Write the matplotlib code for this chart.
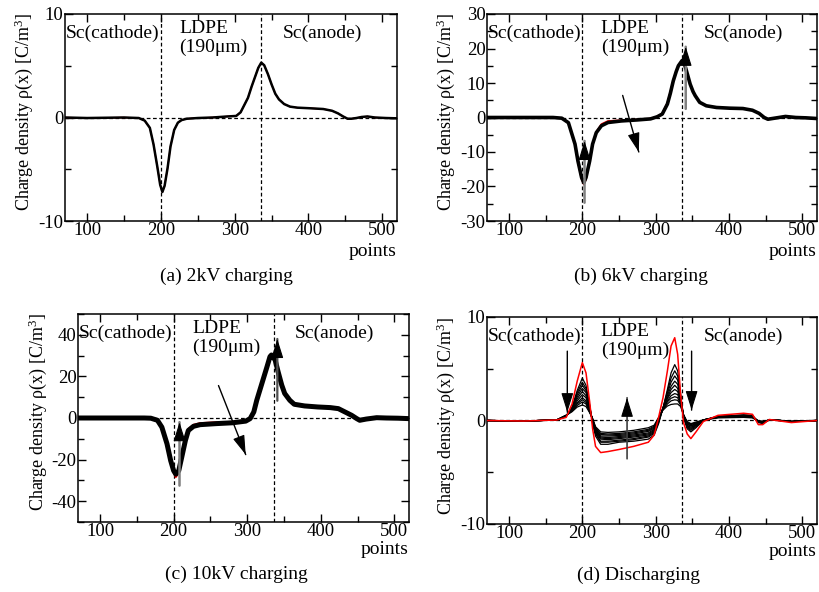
import numpy as np
import matplotlib
matplotlib.use('Agg')
import matplotlib.pyplot as plt
from matplotlib.ticker import MultipleLocator

plt.rcParams['font.family'] = ['Liberation Serif', 'DejaVu Serif']
plt.rcParams['mathtext.fontset'] = 'custom'
plt.rcParams['mathtext.rm'] = 'Liberation Serif'
plt.rcParams['mathtext.it'] = 'Liberation Serif:italic'
plt.rcParams['axes.unicode_minus'] = False

# ---- data ----
# (a) 2kV charging
xa = [70, 100, 150, 170, 178, 185, 190, 195, 199, 202, 205, 209, 213, 218, 223, 228, 235, 250, 270, 290,
      302, 308, 313, 318, 323, 328, 332, 336, 340, 345, 350, 355, 360, 367, 375, 385, 400, 420, 432, 440,
      447, 453, 458, 465, 472, 480, 490, 505, 520]
ya = [0, -0.05, 0, -0.05, -0.3, -1.0, -2.6, -4.7, -6.5, -7.2, -6.6, -4.9, -2.8, -1.2, -0.5, -0.25, -0.12, -0.05, 0.0, 0.1,
      0.15, 0.5, 1.2, 1.9, 3.0, 4.0, 4.8, 5.3, 5.05, 4.2, 3.2, 2.3, 1.75, 1.3, 1.05, 0.95, 0.9, 0.82, 0.65, 0.4,
      0.1, -0.12, -0.12, -0.05, 0.05, 0.1, 0.0, -0.05, -0.08]

# (b) 6kV charging
xb = [70, 120, 160, 172, 181, 190, 194, 199, 202, 205, 210, 214, 219, 226, 235, 253, 275, 293, 302, 309,
      316, 320, 324, 328, 331, 336, 340, 344, 347, 351, 354, 360, 369, 383, 401, 419, 432, 441, 448, 453,
      462, 477, 491, 505, 520]
yb_last = [0, 0, 0, -0.2, -1.5, -7.7, -12.6, -17.4, -18.9, -17.4, -12.6, -7.7, -4.4, -2.4, -1.45, -1.0, -0.7, -0.4, 0.2, 1.0,
           3.9, 7.0, 10.6, 13.3, 15.0, 16.5, 15.0, 12.0, 9.7, 7.5, 6.3, 4.4, 3.4, 2.9, 2.7, 2.6, 2.1, 1.2, 0.0, -0.5,
           -0.2, 0.3, 0.0, -0.1, -0.3]
yb_first = [0, 0, 0, -0.2, -1.6, -8.0, -13.0, -17.9, -19.4, -17.9, -12.9, -7.8, -4.2, -1.9, -1.0, -0.8, -0.6, -0.3, 0.3, 1.2,
            4.3, 7.5, 10.9, 13.4, 15.0, 16.3, 14.8, 11.9, 9.6, 7.5, 6.3, 4.4, 3.4, 2.9, 2.7, 2.6, 2.1, 1.2, 0.0, -0.5,
            -0.2, 0.3, 0.0, -0.1, -0.3]

# (c) 10kV charging
xc = [70, 120, 160, 169, 178, 184, 191, 196, 200, 203, 207, 211, 216, 220, 227, 236, 258, 280, 298, 304,
      309, 313, 320, 327, 331, 333, 338, 342, 347, 351, 358, 364, 378, 396, 413, 424, 433, 442, 449, 453,
      462, 476, 489, 505, 520]
yc_last = [0, 0, 0, -0.1, -1.1, -4.4, -12.4, -20.5, -25.3, -27.0, -25.3, -18.9, -10.8, -6.0, -4.0, -3.2, -2.7, -2.3, -1.5, -0.3,
           2.9, 8.5, 16.6, 24.7, 29.5, 30.3, 27.9, 22.3, 15.8, 11.8, 8.5, 6.6, 5.8, 5.3, 5.0, 4.5, 2.9, 1.3, -0.3, -1.1,
           -0.5, 0.15, 0.0, -0.1, -0.3]
yc_first = [0, 0, 0, -0.1, -1.2, -4.8, -13.0, -21.5, -26.5, -28.5, -26.5, -19.5, -10.5, -5.2, -3.2, -2.4, -2.0, -1.8, -1.0, 0.2,
            3.3, 8.9, 16.8, 24.5, 29.0, 29.8, 27.6, 22.1, 15.7, 11.8, 8.5, 6.6, 5.8, 5.3, 5.0, 4.5, 2.9, 1.3, -0.3, -1.1,
            -0.5, 0.15, 0.0, -0.1, -0.3]

# (d) Discharging
xd = [70, 120, 165, 178, 186, 193, 200, 205, 210, 214, 218, 225, 235, 250, 270, 290, 298, 304, 310, 316,
      321, 326, 330, 334, 338, 343, 348, 355, 365, 385, 420, 432, 440, 446, 455, 470, 485, 520]
yd_first = [0, -0.05, 0.05, 0.3, 1.6, 3.8, 5.6, 4.6, 1.8, -0.8, -2.5, -3.1, -3.0, -2.8, -2.5, -2.1, -1.4, 0.3, 2.2, 4.8,
            7.2, 8.0, 6.4, 2.5, -0.2, -1.3, -1.75, -1.1, -0.1, 0.5, 0.7, 0.6, -0.4, -0.4, 0.1, -0.05, -0.2, 0.0]
yd_later = [
    [0, -0.05, 0.05, 0.4, 1.3, 2.9, 4.1, 3.4, 1.5, -0.3, -1.5, -2.3, -2.3, -2.1, -2.0, -1.8, -1.4, -0.3, 1.2, 3.0,
     4.6, 5.4, 4.8, 2.6, 0.3, -0.8, -1.1, -0.7, 0.0, 0.4, 0.55, 0.5, -0.2, -0.3, 0.05, 0.0, -0.1, 0.0],
    [0, -0.05, 0.05, 0.4, 1.2, 2.7, 3.7, 3.1, 1.4, -0.2, -1.3, -2.1, -2.1, -2.0, -1.85, -1.6, -1.25, -0.2, 1.2, 2.8,
     4.1, 4.8, 4.3, 2.4, 0.35, -0.7, -0.95, -0.6, 0.05, 0.4, 0.5, 0.45, -0.15, -0.25, 0.05, 0.0, -0.1, 0.0],
    [0, -0.05, 0.05, 0.45, 1.2, 2.5, 3.4, 2.9, 1.3, -0.1, -1.2, -2.0, -2.0, -1.9, -1.75, -1.5, -1.15, -0.1, 1.2, 2.6,
     3.7, 4.3, 3.9, 2.2, 0.4, -0.6, -0.85, -0.5, 0.05, 0.4, 0.5, 0.45, -0.1, -0.2, 0.05, 0.0, -0.1, 0.0],
    [0, -0.05, 0.05, 0.45, 1.1, 2.3, 3.1, 2.7, 1.2, 0.0, -1.1, -1.8, -1.85, -1.75, -1.6, -1.4, -1.05, 0.0, 1.2, 2.4,
     3.3, 3.8, 3.5, 2.1, 0.45, -0.5, -0.75, -0.45, 0.05, 0.35, 0.45, 0.4, -0.1, -0.2, 0.05, 0.0, -0.1, 0.0],
    [0, -0.05, 0.05, 0.5, 1.1, 2.1, 2.8, 2.4, 1.1, 0.05, -1.0, -1.7, -1.75, -1.65, -1.5, -1.3, -0.95, 0.05, 1.2, 2.2,
     3.0, 3.4, 3.1, 1.9, 0.5, -0.45, -0.65, -0.4, 0.05, 0.35, 0.45, 0.4, -0.1, -0.15, 0.05, 0.0, -0.1, 0.0],
    [0, -0.05, 0.05, 0.5, 1.0, 1.9, 2.5, 2.2, 1.0, 0.1, -0.9, -1.6, -1.65, -1.55, -1.4, -1.2, -0.85, 0.1, 1.2, 2.1,
     2.7, 3.0, 2.8, 1.8, 0.5, -0.35, -0.55, -0.35, 0.05, 0.35, 0.4, 0.35, -0.05, -0.15, 0.05, 0.0, -0.1, 0.0],
    [0, -0.05, 0.05, 0.5, 1.0, 1.7, 2.2, 1.9, 0.9, 0.1, -0.85, -1.5, -1.5, -1.45, -1.3, -1.05, -0.75, 0.15, 1.15, 1.9,
     2.4, 2.6, 2.5, 1.7, 0.55, -0.3, -0.5, -0.3, 0.05, 0.3, 0.4, 0.35, -0.05, -0.1, 0.05, 0.0, -0.1, 0.0],
    [0, -0.05, 0.05, 0.5, 0.95, 1.6, 2.0, 1.75, 0.85, 0.15, -0.75, -1.35, -1.4, -1.35, -1.2, -0.95, -0.65, 0.2, 1.1, 1.8,
     2.15, 2.3, 2.2, 1.6, 0.55, -0.25, -0.4, -0.25, 0.05, 0.3, 0.35, 0.3, -0.05, -0.1, 0.05, 0.0, -0.1, 0.0],
    [0, -0.05, 0.05, 0.5, 0.9, 1.45, 1.8, 1.6, 0.8, 0.15, -0.7, -1.25, -1.3, -1.25, -1.1, -0.85, -0.55, 0.25, 1.05, 1.6,
     1.9, 2.0, 1.95, 1.5, 0.55, -0.2, -0.35, -0.2, 0.05, 0.3, 0.35, 0.3, -0.05, -0.1, 0.05, 0.0, -0.1, 0.0],
    [0, -0.05, 0.05, 0.5, 0.85, 1.3, 1.5, 1.35, 0.75, 0.2, -0.6, -1.1, -1.15, -1.1, -0.95, -0.7, -0.45, 0.3, 1.0, 1.4,
     1.55, 1.6, 1.6, 1.35, 0.55, -0.1, -0.3, -0.15, 0.05, 0.25, 0.3, 0.25, -0.05, -0.1, 0.05, 0.0, -0.1, 0.0],
]

captions = ['(a) 2kV charging', '(b) 6kV charging', '(c) 10kV charging', '(d) Discharging']
ylims = [10, 30, 50, 10]
yminor = [5, 5, 10, 5]
ytick_vals = [[-10, 0, 10], [-30, -20, -10, 0, 10, 20, 30], [-40, -20, 0, 20, 40], [-10, 0, 10]]

W, H = 820, 592
fig = plt.figure(figsize=(W / 100, H / 100), dpi=100)

# axes boxes in pixels: left, right, top, bottom
boxes = [(65, 397, 14, 221), (487, 817, 14, 221), (78, 409, 314, 522), (487, 817, 317, 524)]
cap_pos = [(226, 276), (641, 276), (236, 574), (639, 575)]
pts_pos = [(397, 251), (817, 251), (409, 550), (817, 552)]
ylab_pos = [(24, 112), (446, 112), (38, 412), (446, 416)]

axes = []
for i, (l, r, t, b) in enumerate(boxes):
    ax = fig.add_axes([l / W, 1 - b / H, (r - l) / W, (b - t) / H])
    ax.set_xlim(70, 520)
    ax.set_ylim(-ylims[i], ylims[i])
    ax.xaxis.set_major_locator(MultipleLocator(100))
    ax.xaxis.set_minor_locator(MultipleLocator(50))
    ax.set_yticks(ytick_vals[i])
    ax.yaxis.set_minor_locator(MultipleLocator(yminor[i]))
    ax.tick_params(which='both', direction='in', top=True, right=True, width=1, labelsize=13.5, pad=1)
    ax.tick_params(which='major', length=6)
    ax.tick_params(which='minor', length=4)
    for s in ax.spines.values():
        s.set_linewidth(1.1)
    ax.axvline(200, color='k', lw=0.9, ls=(0, (3, 2)), zorder=1)
    ax.axvline(336, color='k', lw=0.9, ls=(0, (3, 2)), zorder=1)
    ax.axhline(0, color='k', lw=0.9, ls=(0, (3, 2)), zorder=1)

    ax.text(0.003, 0.905, 'Sc(cathode)', transform=ax.transAxes, fontsize=14, va='center', ha='left')
    ax.text(0.345, 0.928, 'LDPE', transform=ax.transAxes, fontsize=14, va='center', ha='left')
    ax.text(0.345, 0.841, '(190\u03bcm)', transform=ax.transAxes, fontsize=14, va='center', ha='left')
    ax.text(0.656, 0.907, 'Sc(anode)', transform=ax.transAxes, fontsize=14, va='center', ha='left')

    fig.text(cap_pos[i][0] / W, 1 - cap_pos[i][1] / H, captions[i], fontsize=14, ha='center', va='center')
    fig.text(pts_pos[i][0] / W, 1 - pts_pos[i][1] / H, 'points', fontsize=14, ha='right', va='center')
    fig.text(ylab_pos[i][0] / W, 1 - ylab_pos[i][1] / H, r'Charge density ρ(x) [C/m$^{\rm 3}$]',
             fontsize=13, rotation=90, ha='center', va='center')
    axes.append(ax)

ax_a, ax_b, ax_c, ax_d = axes

ax_a.plot(xa, ya, color='red', lw=1.0, zorder=2)
ax_a.plot(xa, ya, color='k', lw=1.8, zorder=3)

ax_b.plot(xb, yb_first, color='red', lw=1.2, zorder=2)
ax_b.plot(xb, yb_last, color='k', lw=2.6, zorder=3)

ax_c.plot(xc, yc_first, color='red', lw=1.2, zorder=2)
ax_c.plot(xc, yc_last, color='k', lw=3.6, zorder=3)

for row in yd_later:
    ax_d.plot(xd, row, color='k', lw=0.9, zorder=3)
ax_d.plot(xd, yd_first, color='red', lw=1.1, zorder=4)


def arrow(ax, start, end, shaft='k', lw=1.0):
    # shaft, then a black filled head on the last bit of it
    ax.annotate('', xy=end, xytext=start,
                arrowprops=dict(arrowstyle='-', color=shaft, lw=lw, shrinkA=0, shrinkB=0), zorder=5)
    near = (start[0] + 0.85 * (end[0] - start[0]), start[1] + 0.85 * (end[1] - start[1]))
    ax.annotate('', xy=end, xytext=near,
                arrowprops=dict(arrowstyle='-|>,head_length=0.8,head_width=0.25', mutation_scale=15,
                                color='k', lw=0.8, shrinkA=0, shrinkB=0), zorder=6)


arrow(ax_b, (203, -24.7), (203, -6.8), shaft='#808080', lw=1.8)
arrow(ax_b, (341, 2.5), (341, 20.5), shaft='#808080', lw=1.8)
arrow(ax_b, (255, 6.4), (277, -10))

arrow(ax_c, (208, -32.5), (208, -2), shaft='#808080', lw=1.8)
arrow(ax_c, (341, 8.3), (341, 38), shaft='#505050', lw=1.6)
arrow(ax_c, (261, 15.6), (298, -17.6))

arrow(ax_d, (179.5, 6.7), (179.5, 0.8))
arrow(ax_d, (349, 6.7), (349, 1.0))
arrow(ax_d, (261, -3.7), (261, 2.2), shaft='#404040', lw=1.2)

fig.savefig('out.png', dpi=100)
